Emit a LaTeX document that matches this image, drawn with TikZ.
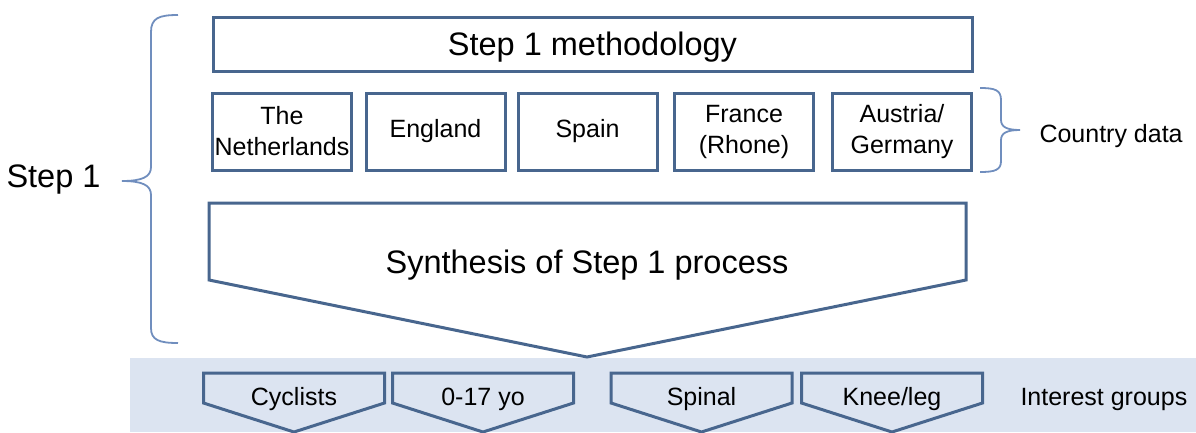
\documentclass[tikz,border=0pt]{standalone}
\usepackage{fontspec}
\setmainfont{Liberation Sans}
\usepackage{tikz}
\usetikzlibrary{positioning}
\usepackage{xcolor}

\definecolor{boxblue}{RGB}{72,102,142}
\definecolor{braceblue}{RGB}{112,142,190}
\definecolor{bandblue}{RGB}{220,228,241}

\begin{document}
\begin{tikzpicture}[x=1pt,y=-1pt,
  bigtext/.style={font=\fontsize{32.5}{38}\selectfont},
  smalltext/.style={font=\fontsize{25}{31}\selectfont},
  countrybox/.style={smalltext, draw=boxblue, line width=3pt, inner sep=0pt,
    align=center, minimum width=139pt, minimum height=77pt},
  outline/.style={draw=boxblue, line width=3pt, line join=miter},
  bracepath/.style={draw=braceblue, line width=1.8pt}
]

\useasboundingbox (0,0) rectangle (1196,432);

% band of interest groups
\fill[bandblue] (130,358) rectangle (1196,432);

% top box
\node[bigtext, draw=boxblue, line width=3pt, inner sep=0pt, text depth=0pt,
  minimum width=759pt, minimum height=54pt] (method) at (592.5,44) {Step 1 methodology};

% countries
\node[countrybox] (nl) at (282,131.5) {The\\Netherlands};
\node[countrybox] (eng) at (435.5,131.5) {England};
\node[countrybox] (spain) at (587.5,131.5) {Spain};
\node[countrybox] (france) at (744,131.5) {France\\(Rhone)};
\node[countrybox] (austria) at (902,131.5) {Austria/\\Germany};

% synthesis arrow
\filldraw[outline, fill=white] (209,203) -- (966,203) -- (966,280) -- (587,357) -- (209,280) -- cycle;
\node[bigtext, anchor=base] (synth) at (587,273) {Synthesis of Step 1 process};

% interest groups
\draw[outline] (203.5,373) -- ++(181,0) -- ++(0,30) -- (294,432) -- (203.5,403) -- cycle;
\node[smalltext, anchor=base] (cyc) at (294,405) {Cyclists};

\draw[outline] (392.5,373) -- ++(181,0) -- ++(0,30) -- (483,432) -- (392.5,403) -- cycle;
\node[smalltext, anchor=base] (young) at (483,405) {0-17 yo};

\draw[outline] (611,373) -- ++(181,0) -- ++(0,30) -- (701.5,432) -- (611,403) -- cycle;
\node[smalltext, anchor=base] (spinal) at (701.5,405) {Spinal};

\draw[outline] (801.5,373) -- ++(181,0) -- ++(0,30) -- (892,432) -- (801.5,403) -- cycle;
\node[smalltext, anchor=base] (knee) at (892,405) {Knee/leg};

\node[smalltext, anchor=base west] (groups) at (1017,405) {Interest groups};

% braces
\coordinate (s1tip) at (122,181);
\draw[bracepath] (178,15) .. controls (159,15) and (151,18) .. (151,32)
  -- (151,167) .. controls (151,177) and (142,181) .. (s1tip)
  .. controls (142,181) and (151,185) .. (151,195)
  -- (151,328) .. controls (151,340) and (159,343) .. (178,343);
\node[bigtext, anchor=base east] (steplab) at (104,187) {Step 1};

\coordinate (cdtip) at (1020,130);
\draw[bracepath] (980,88) .. controls (995,88) and (1001,90) .. (1001,100)
  -- (1001,120) .. controls (1001,127) and (1007,130) .. (cdtip)
  .. controls (1007,130) and (1001,133) .. (1001,140)
  -- (1001,161) .. controls (1001,170) and (995,172) .. (980,172);
\node[smalltext, anchor=base west] (cdata) at (1036,142) {Country data};

\end{tikzpicture}
\end{document}
